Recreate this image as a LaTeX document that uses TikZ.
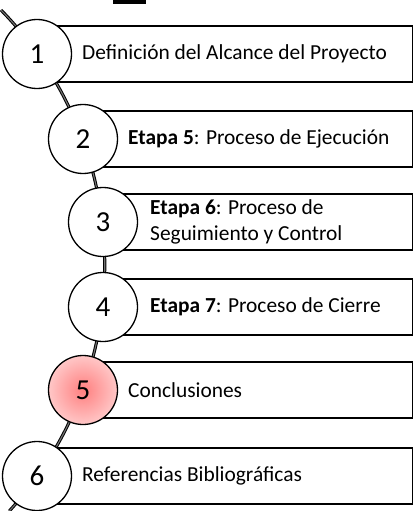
\documentclass[tikz,border=0pt]{standalone}
\usepackage{fontspec}
\setmainfont{Carlito}
\begin{document}
\begin{tikzpicture}
[x=1pt,y=-1pt,
  stepcircle/.style={shape=circle,minimum size=69pt,inner sep=0pt,draw,line width=1.3pt,fill=white,font=\fontsize{29}{31}\selectfont},%
  stepbox/.style={shape=rectangle,minimum height=56pt,inner sep=0pt,draw,line width=1.3pt,fill=white,anchor=west},%
  steptext/.style={anchor=west,align=left,inner sep=0pt,font=\fontsize{21.4}{25.5}\selectfont},%
  spinedecorate/.style={draw=black,line width=1pt,double=black!55,double distance=1.1pt}]
\useasboundingbox (0,0) rectangle (413,511);
% mark at the top
\fill (113,0) rectangle (146,4);
% spine
\coordinate (top) at (1,10);
\draw[spinedecorate] (top) arc[start angle=-44.3,end angle=42.4,radius=365];
% boxes
\node (b1) at (37,54) [stepbox,minimum width=375pt] {};
\node (b2) at (83,139) [stepbox,minimum width=329pt] {};
\node (b3) at (103,222) [stepbox,minimum width=309pt] {};
\node (b4) at (103,307) [stepbox,minimum width=309pt] {};
\node (b5) at (83,390) [stepbox,minimum width=329pt] {};
\node (b6) at (37,476) [stepbox,minimum width=375pt] {};
% circles
\node (c1) at (37,54) [stepcircle] {1};
\node (c2) at (83,139) [stepcircle] {2};
\node (c3) at (103,222) [stepcircle] {3};
\node (c4) at (103,307) [stepcircle] {4};
\node (c5) at (83,390) [stepcircle,shading=radial,inner color=red!50!white,outer color=red!22!white] {5};
\node (c6) at (37,476) [stepcircle] {6};
% texts
\node (t1) at (82,54) [steptext] {Definición del Alcance del Proyecto};
\node (t2) at (128,139) [steptext] {\textbf{Etapa 5}: Proceso de Ejecución};
\node (t3) at (150,222) [steptext] {\textbf{Etapa 6}: Proceso de\\Seguimiento y Control};
\node (t4) at (150,307) [steptext] {\textbf{Etapa 7}: Proceso de Cierre};
\node (t5) at (128,390) [steptext] {Conclusiones};
\node (t6) at (82,476) [steptext] {Referencias Bibliográficas};
\end{tikzpicture}
\end{document}
